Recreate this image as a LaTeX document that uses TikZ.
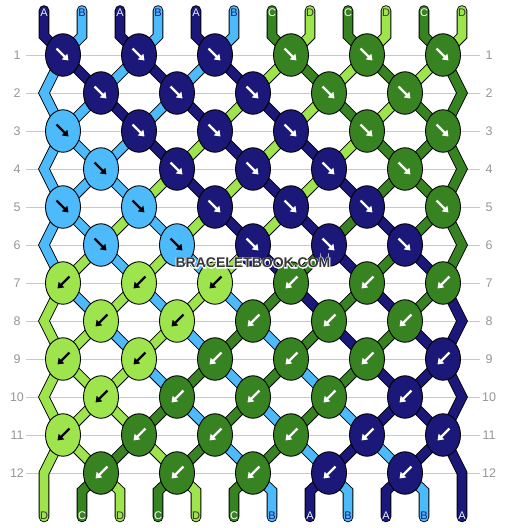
\documentclass[tikz,border=0pt]{standalone}
\usepackage{fontspec}
\setmainfont{Liberation Sans}
\newfontfamily\wmhalo{Liberation Sans}[UprightFeatures={FakeBold=12}, BoldFeatures={FakeBold=12}]
\usetikzlibrary{arrows.meta,shapes.geometric}
\definecolor{colA}{RGB}{27,24,122}
\definecolor{colB}{RGB}{77,186,252}
\definecolor{colC}{RGB}{56,131,33}
\definecolor{colD}{RGB}{158,229,77}
\colorlet{arA}{white}
\colorlet{arB}{black}
\colorlet{arC}{white}
\colorlet{arD}{black}
\colorlet{txA}{white!85!colB}
\colorlet{txB}{colA}
\colorlet{txC}{white}
\colorlet{txD}{black!80}
\definecolor{gridc}{RGB}{200,200,200}
\definecolor{numc}{RGB}{150,150,150}
\definecolor{wmc}{RGB}{55,55,55}
\pgfdeclarelayer{bg}
\pgfdeclarelayer{grid}
\pgfsetlayers{grid,bg,main}
\tikzset{
  knot/.style={ellipse, draw=black, line width=0.9pt, fill=col#1, minimum width=35pt, minimum height=42.5pt, inner sep=0pt},
  arr/.style={draw=ar#1, line width=2.4pt, -{Triangle[length=5.5pt,width=7.5pt]}},
  str/.style={draw=black, line width=0.9pt, double=col#1, double distance=8.8pt, line cap=round, line join=miter},
  lbl/.style={text=tx#1, font=\fontsize{11}{11}\selectfont, inner sep=0pt},
  num/.style={text=numc, font=\fontsize{12.5}{12.5}\selectfont, inner sep=0pt},
  gridline/.style={draw=gridc, line width=1pt},
}
\begin{document}
\begin{tikzpicture}[x=1pt,y=-1pt]
\begin{pgfonlayer}{grid}
\fill[white] (0,0) rectangle (506,528);
\end{pgfonlayer}
\useasboundingbox (0,0) rectangle (506,528);

% row numbers and grid lines
\foreach \r in {1,...,12} {
  \pgfmathsetmacro\y{55+38*(\r-1)}
  \node[num] (rl-\r) at (17,\y) {\r};
  \node[num] (rr-\r) at (489,\y) {\r};
  \coordinate (gl-\r) at (26,\y);
  \coordinate (gr-\r) at (480,\y);
  \begin{pgfonlayer}{grid}
    \draw[gridline] (gl-\r) -- (gr-\r);
  \end{pgfonlayer}
}

% edge coordinates
\foreach \r in {2,4,...,12} {
  \pgfmathsetmacro\y{55+38*(\r-1)}
  \coordinate (eL-\r) at (44,\y);
  \coordinate (eR-\r) at (462,\y);
}

% knots
\foreach \r/\lst in {1/{A,A,A,C,C,C},2/{A,A,A,C,C},3/{B,A,A,A,C,C},4/{B,A,A,A,C},
  5/{B,B,A,A,A,C},6/{B,B,A,A,A},7/{D,D,D,C,C,C},8/{D,D,C,C,C},9/{D,D,C,C,C,A},
  10/{D,C,C,C,A},11/{D,C,C,C,A,A},12/{C,C,C,A,A}} {
  \pgfmathtruncatemacro\odd{mod(\r,2)}
  \pgfmathsetmacro\y{55+38*(\r-1)}
  \foreach \c [count=\j] in \lst {
    \pgfmathsetmacro\x{(\odd==1 ? 63 : 101)+76*(\j-1)}
    \node[knot=\c] (k-\r-\j) at (\x,\y) {};
    \ifnum\r<7
      \draw[arr=\c] ([shift={(-6.5,-6.5)}]k-\r-\j.center) -- ([shift={(5.5,5.5)}]k-\r-\j.center);
    \else
      \draw[arr=\c] ([shift={(6.5,-6.5)}]k-\r-\j.center) -- ([shift={(-5.5,5.5)}]k-\r-\j.center);
    \fi
  }
}

% end coordinates and end labels
\foreach \c [count=\p] in {A,B,A,B,A,B,C,D,C,D,C,D} {
  \pgfmathtruncatemacro\jc{int((\p+1)/2)}
  \pgfmathtruncatemacro\parity{mod(\p,2)}
  \pgfmathsetmacro\x{63+76*(\jc-1)+(\parity==1 ? -19 : 19)}
  \coordinate (t-\p) at (\x,10.5);
  \coordinate (tb-\p) at (\x,36);
  \node[lbl=\c] (lt-\p) at (\x,12.5) {\c};
}
\foreach \c [count=\p] in {D,C,D,C,D,C,B,A,B,A,B,A} {
  \pgfmathtruncatemacro\jf{int(\p/2)}
  \pgfmathtruncatemacro\parity{mod(\p,2)}
  \ifnum\p=1
    \pgfmathsetmacro\x{44}
  \else\ifnum\p=12
    \pgfmathsetmacro\x{462}
  \else
    \pgfmathsetmacro\x{101+76*(\jf-1)+(\parity==0 ? -19 : 19)}
  \fi\fi
  \coordinate (b-\p) at (\x,517);
  \coordinate (bb-\p) at (\x,491);
  \node[lbl=\c] (lb-\p) at (\x,515.5) {\c};
}

\begin{pgfonlayer}{bg}
% top strings
\foreach \c [count=\p] in {A,B,A,B,A,B,C,D,C,D,C,D} {
  \pgfmathtruncatemacro\jc{int((\p+1)/2)}
  \draw[str=\c] (t-\p) -- (tb-\p) -- (k-1-\jc.center);
}
% bottom strings
\foreach \c [count=\p] in {D,C,D,C,D,C,B,A,B,A,B,A} {
  \pgfmathtruncatemacro\jf{int(\p/2)}
  \ifnum\p=1 \else\ifnum\p=12 \else
    \draw[str=\c] (k-12-\jf.center) -- (bb-\p) -- (b-\p);
  \fi\fi
}
% strings between rows
\foreach \r/\lst in {1/{B,A,B,A,B,A,D,C,D,C,D,C},2/{B,B,A,B,A,D,A,D,C,D,C,C},
  3/{B,B,B,A,D,A,D,A,D,C,C,C},4/{B,B,B,D,A,D,A,D,A,C,C,C},5/{B,B,D,B,D,A,D,A,C,A,C,C},
  6/{B,D,B,D,B,D,A,C,A,C,A,C},7/{D,B,D,B,D,B,C,A,C,A,C,A},8/{D,D,B,D,B,C,B,C,A,C,A,A},
  9/{D,D,D,B,C,B,C,B,C,A,A,A},10/{D,D,D,C,B,C,B,C,B,A,A,A},11/{D,D,C,D,C,B,C,B,A,B,A,A}} {
  \pgfmathtruncatemacro\odd{mod(\r,2)}
  \pgfmathtruncatemacro\rn{\r+1}
  \pgfmathtruncatemacro\rnn{\r+2}
  \foreach \c [count=\p] in \lst {
    \pgfmathtruncatemacro\jc{int((\p+1)/2)}
    \pgfmathtruncatemacro\jf{int(\p/2)}
    \ifnum\odd=1
      \ifnum\p=1
        \ifnum\r=11
          \draw[str=\c] (k-\r-1.center) -- (eL-\rn) -- (b-1);
        \else
          \draw[str=\c] (k-\r-1.center) -- (eL-\rn) -- (k-\rnn-1.center);
        \fi
      \else\ifnum\p=12
        \ifnum\r=11
          \draw[str=\c] (k-\r-6.center) -- (eR-\rn) -- (b-12);
        \else
          \draw[str=\c] (k-\r-6.center) -- (eR-\rn) -- (k-\rnn-6.center);
        \fi
      \else
        \draw[str=\c] (k-\r-\jc.center) -- (k-\rn-\jf.center);
      \fi\fi
    \else
      \ifnum\p=1 \else\ifnum\p=12 \else
        \draw[str=\c] (k-\r-\jf.center) -- (k-\rn-\jc.center);
      \fi\fi
    \fi
  }
}
\end{pgfonlayer}

% watermark with halo
\node[inner sep=0pt, text=white, font=\wmhalo\bfseries\fontsize{14}{14}\selectfont] (wmh) at (253,263) {BRACELETBOOK.COM};
\node[inner sep=0pt, text=wmc, font=\bfseries\fontsize{14}{14}\selectfont] (wm) at (253,263) {BRACELETBOOK.COM};
\end{tikzpicture}
\end{document}
